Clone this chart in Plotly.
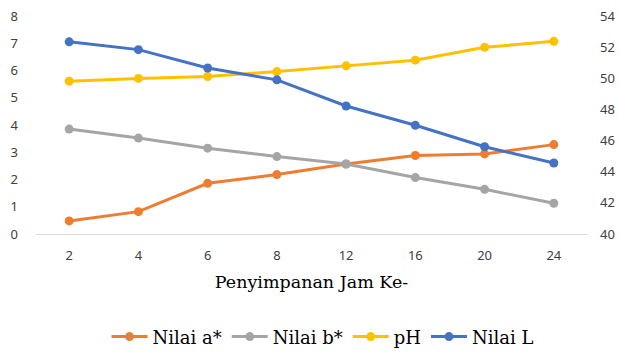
import plotly.graph_objects as go

# Storage hours (categories) and measured values
jam = ["2", "4", "6", "8", "12", "16", "20", "24"]
nilai_a = [0.48, 0.82, 1.86, 2.18, 2.57, 2.88, 2.94, 3.28]
nilai_b = [3.85, 3.52, 3.15, 2.84, 2.57, 2.07, 1.64, 1.13]
ph = [5.61, 5.71, 5.78, 5.96, 6.17, 6.38, 6.85, 7.07]
nilai_l = [52.34, 51.84, 50.66, 49.90, 48.22, 46.98, 45.60, 44.56]

left_ticks = [0, 1, 2, 3, 4, 5, 6, 7, 8]
right_ticks = [40, 42, 44, 46, 48, 50, 52, 54]

series = [
    ("Nilai a*", nilai_a, "#ED7D31", "y"),
    ("Nilai b*", nilai_b, "#A5A5A5", "y"),
    ("pH", ph, "#FFC000", "y"),
    ("Nilai L", nilai_l, "#4472C4", "y2"),
]

fig = go.Figure()
for name, vals, color, axis in series:
    fig.add_trace(go.Scatter(
        x=jam, y=vals, name=name, yaxis=axis,
        mode="lines+markers",
        line=dict(color=color, width=3),
        marker=dict(color=color, size=9),
    ))

tick_font = dict(family="Noto Sans", size=13, color="#404040")
serif = "DejaVu Serif"

fig.update_layout(
    width=619, height=352,
    margin=dict(l=36, r=32, t=16, b=118, autoexpand=False),
    paper_bgcolor="white", plot_bgcolor="white",
    showlegend=True,
    legend=dict(
        orientation="h", x=0.52, xanchor="center", y=-0.472, yanchor="middle",
        font=dict(family=serif, size=18, color="#000000"),
        itemwidth=36, tracegroupgap=0,
    ),
    xaxis=dict(
        type="category", showgrid=False, showline=True, automargin=False,
        linecolor="#D9D9D9", linewidth=1, ticks="",
        tickfont=tick_font, ticklabelstandoff=9,
        title=dict(text="Penyimpanan Jam Ke-", font=dict(family=serif, size=17.5, color="#000000"), standoff=13),
    ),
    yaxis=dict(
        range=[0, 8], tickvals=left_ticks, showgrid=False, zeroline=False, automargin=False,
        showline=False, ticks="", tickfont=tick_font, ticklabelstandoff=17,
    ),
    yaxis2=dict(
        range=[40, 54], tickvals=right_ticks, overlaying="y", side="right", automargin=False,
        showgrid=False, zeroline=False, showline=False, ticks="",
        tickfont=tick_font, ticklabelstandoff=12,
    ),
)

fig.write_html("out.html")
